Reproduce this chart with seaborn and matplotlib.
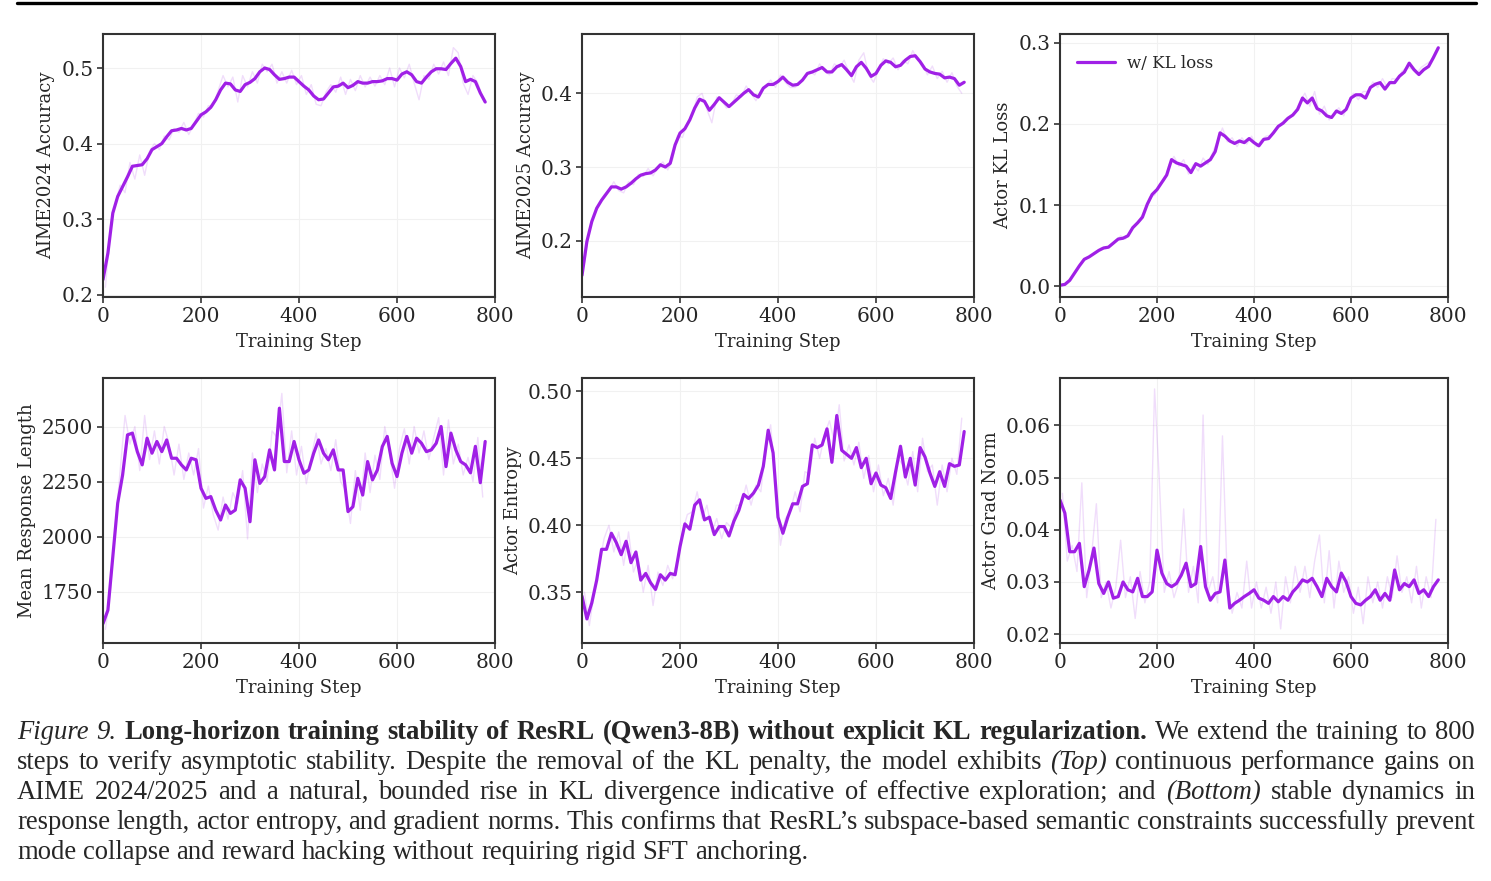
import numpy as np
import pandas as pd
import matplotlib
matplotlib.use("Agg")
import matplotlib.pyplot as plt
from matplotlib.lines import Line2D
import seaborn as sns

# smoothed curves, one value every 10 steps (0..780)
aime24_smooth = [0.220, 0.255, 0.308, 0.330, 0.343, 0.356, 0.370, 0.371, 0.372, 0.380, 0.392, 0.396, 0.400, 0.409,
                 0.417, 0.418, 0.420, 0.418, 0.420, 0.429, 0.438, 0.442, 0.448, 0.458, 0.471, 0.480, 0.479, 0.471,
                 0.469, 0.478, 0.481, 0.486, 0.495, 0.500, 0.498, 0.491, 0.485, 0.486, 0.488, 0.488, 0.482, 0.476,
                 0.471, 0.463, 0.458, 0.459, 0.467, 0.475, 0.476, 0.480, 0.474, 0.477, 0.482, 0.480, 0.480, 0.482,
                 0.482, 0.483, 0.486, 0.486, 0.484, 0.492, 0.495, 0.491, 0.482, 0.480, 0.488, 0.495, 0.499, 0.499,
                 0.498, 0.506, 0.513, 0.502, 0.482, 0.485, 0.482, 0.467, 0.455]
aime25_smooth = [0.153, 0.199, 0.226, 0.244, 0.255, 0.264, 0.273, 0.273, 0.270, 0.273, 0.278, 0.284, 0.289, 0.291,
                 0.292, 0.296, 0.303, 0.300, 0.305, 0.330, 0.346, 0.352, 0.364, 0.380, 0.392, 0.389, 0.377, 0.385,
                 0.394, 0.388, 0.382, 0.388, 0.394, 0.400, 0.405, 0.398, 0.395, 0.407, 0.412, 0.412, 0.416, 0.422,
                 0.415, 0.411, 0.412, 0.418, 0.427, 0.429, 0.432, 0.435, 0.429, 0.429, 0.436, 0.439, 0.432, 0.424,
                 0.436, 0.442, 0.434, 0.423, 0.427, 0.438, 0.444, 0.442, 0.436, 0.438, 0.445, 0.450, 0.451, 0.443,
                 0.433, 0.429, 0.427, 0.426, 0.421, 0.422, 0.420, 0.411, 0.415]
kl_smooth = [0.001, 0.002, 0.007, 0.016, 0.025, 0.033, 0.036, 0.040, 0.044, 0.047, 0.048, 0.053, 0.058, 0.059,
             0.062, 0.072, 0.078, 0.085, 0.101, 0.113, 0.119, 0.128, 0.137, 0.156, 0.152, 0.150, 0.148, 0.140,
             0.151, 0.148, 0.152, 0.156, 0.166, 0.189, 0.185, 0.179, 0.176, 0.179, 0.177, 0.182, 0.177, 0.173,
             0.181, 0.182, 0.189, 0.197, 0.201, 0.207, 0.211, 0.218, 0.232, 0.226, 0.232, 0.219, 0.216, 0.210,
             0.208, 0.216, 0.213, 0.218, 0.232, 0.236, 0.236, 0.232, 0.245, 0.249, 0.251, 0.243, 0.251, 0.251,
             0.259, 0.264, 0.275, 0.267, 0.261, 0.267, 0.271, 0.282, 0.294]
resp_len_smooth = [1606, 1667, 1909, 2152, 2280, 2462, 2470, 2386, 2326, 2447, 2379, 2432, 2386, 2439, 2356, 2356,
                   2326, 2303, 2356, 2349, 2220, 2174, 2182, 2121, 2076, 2144, 2106, 2121, 2258, 2220, 2068, 2349,
                   2242, 2273, 2394, 2303, 2583, 2341, 2341, 2432, 2349, 2288, 2303, 2379, 2439, 2379, 2349, 2394,
                   2303, 2303, 2114, 2136, 2265, 2189, 2341, 2258, 2303, 2409, 2455, 2333, 2273, 2379, 2455, 2379,
                   2447, 2424, 2386, 2394, 2424, 2500, 2318, 2470, 2394, 2341, 2326, 2290, 2410, 2245, 2432]
entropy_smooth = [0.347, 0.330, 0.342, 0.359, 0.382, 0.382, 0.394, 0.387, 0.378, 0.388, 0.372, 0.380, 0.359, 0.364,
                  0.357, 0.352, 0.363, 0.359, 0.364, 0.363, 0.384, 0.401, 0.397, 0.415, 0.419, 0.404, 0.406, 0.393,
                  0.399, 0.399, 0.392, 0.403, 0.411, 0.423, 0.420, 0.424, 0.430, 0.444, 0.471, 0.454, 0.406, 0.394,
                  0.406, 0.416, 0.416, 0.429, 0.431, 0.460, 0.458, 0.460, 0.472, 0.447, 0.482, 0.456, 0.453, 0.450,
                  0.458, 0.443, 0.450, 0.431, 0.439, 0.430, 0.428, 0.420, 0.440, 0.459, 0.436, 0.450, 0.430, 0.458,
                  0.451, 0.439, 0.429, 0.440, 0.429, 0.446, 0.444, 0.445, 0.470]
grad_norm_smooth = [0.0457, 0.0432, 0.0358, 0.0358, 0.0374, 0.0291, 0.0323, 0.0365, 0.0297, 0.0278, 0.0300, 0.0269,
                    0.0272, 0.0300, 0.0285, 0.0281, 0.0307, 0.0272, 0.0272, 0.0281, 0.0361, 0.0317, 0.0297, 0.0291,
                    0.0297, 0.0313, 0.0336, 0.0291, 0.0297, 0.0368, 0.0291, 0.0265, 0.0278, 0.0281, 0.0342, 0.0250,
                    0.0259, 0.0265, 0.0272, 0.0278, 0.0285, 0.0269, 0.0265, 0.0259, 0.0272, 0.0262, 0.0272, 0.0265,
                    0.0281, 0.0291, 0.0304, 0.0300, 0.0307, 0.0291, 0.0272, 0.0307, 0.0291, 0.0281, 0.0317, 0.0300,
                    0.0272, 0.0259, 0.0256, 0.0265, 0.0272, 0.0285, 0.0265, 0.0278, 0.0265, 0.0323, 0.0285, 0.0297,
                    0.0291, 0.0304, 0.0278, 0.0285, 0.0272, 0.0291, 0.0304]

# raw (unsmoothed) readings, one every 10 steps at 5, 15, ..., 775
aime24_raw = [0.21, 0.29, 0.32, 0.345, 0.335, 0.375, 0.353, 0.385, 0.358, 0.39, 0.40, 0.392, 0.41, 0.405, 0.42,
              0.415, 0.428, 0.412, 0.425, 0.44, 0.435, 0.45, 0.45, 0.47, 0.49, 0.475, 0.488, 0.455, 0.49, 0.475,
              0.495, 0.48, 0.505, 0.495, 0.505, 0.48, 0.495, 0.48, 0.497, 0.478, 0.49, 0.465, 0.478, 0.452, 0.45,
              0.468, 0.478, 0.468, 0.488, 0.465, 0.485, 0.47, 0.49, 0.475, 0.488, 0.476, 0.49, 0.478, 0.50, 0.475,
              0.50, 0.487, 0.505, 0.48, 0.458, 0.49, 0.485, 0.505, 0.492, 0.508, 0.49, 0.527, 0.52, 0.48, 0.465,
              0.49, 0.48, 0.46]
aime25_raw = [0.17, 0.215, 0.235, 0.25, 0.262, 0.268, 0.28, 0.268, 0.265, 0.28, 0.276, 0.29, 0.287, 0.298, 0.288,
              0.30, 0.307, 0.296, 0.31, 0.343, 0.34, 0.36, 0.37, 0.395, 0.40, 0.378, 0.36, 0.395, 0.39, 0.38,
              0.385, 0.398, 0.395, 0.41, 0.40, 0.39, 0.405, 0.41, 0.418, 0.408, 0.425, 0.415, 0.408, 0.408, 0.415,
              0.422, 0.43, 0.425, 0.44, 0.43, 0.425, 0.44, 0.435, 0.445, 0.428, 0.415, 0.445, 0.455, 0.425, 0.415,
              0.432, 0.447, 0.44, 0.448, 0.432, 0.445, 0.44, 0.458, 0.445, 0.44, 0.425, 0.437, 0.42, 0.43, 0.415,
              0.428, 0.41, 0.40]
kl_raw = [0.002, 0.004, 0.012, 0.02, 0.03, 0.035, 0.038, 0.041, 0.047, 0.046, 0.052, 0.055, 0.062, 0.058, 0.068,
          0.074, 0.083, 0.094, 0.11, 0.112, 0.126, 0.13, 0.15, 0.16, 0.148, 0.156, 0.138, 0.15, 0.142, 0.158, 0.15,
          0.165, 0.18, 0.195, 0.178, 0.183, 0.172, 0.183, 0.175, 0.185, 0.172, 0.18, 0.185, 0.186, 0.195, 0.20,
          0.206, 0.21, 0.215, 0.228, 0.238, 0.222, 0.24, 0.212, 0.222, 0.205, 0.212, 0.22, 0.21, 0.228, 0.238,
          0.23, 0.24, 0.24, 0.252, 0.245, 0.256, 0.245, 0.256, 0.255, 0.265, 0.27, 0.268, 0.262, 0.27, 0.274,
          0.278, 0.29]
resp_len_raw = [1580, 1750, 2050, 2300, 2550, 2420, 2500, 2300, 2550, 2350, 2480, 2330, 2500, 2420, 2280, 2420,
                2260, 2380, 2280, 2400, 2130, 2230, 2100, 2030, 2180, 2080, 2200, 2150, 2300, 1990, 2380, 2200,
                2330, 2250, 2480, 2450, 2650, 2290, 2480, 2280, 2410, 2240, 2360, 2470, 2330, 2400, 2300, 2440,
                2250, 2210, 2060, 2300, 2120, 2380, 2200, 2370, 2260, 2500, 2380, 2220, 2400, 2490, 2330, 2500,
                2380, 2480, 2350, 2450, 2540, 2280, 2530, 2330, 2420, 2280, 2360, 2250, 2450, 2180]
entropy_raw = [0.35, 0.325, 0.35, 0.37, 0.39, 0.40, 0.38, 0.395, 0.37, 0.395, 0.365, 0.375, 0.35, 0.37, 0.34,
               0.365, 0.355, 0.37, 0.36, 0.375, 0.395, 0.408, 0.41, 0.425, 0.405, 0.415, 0.395, 0.405, 0.39, 0.402,
               0.398, 0.415, 0.415, 0.43, 0.415, 0.43, 0.425, 0.46, 0.475, 0.43, 0.385, 0.405, 0.41, 0.425, 0.41,
               0.44, 0.438, 0.465, 0.45, 0.468, 0.478, 0.462, 0.49, 0.448, 0.46, 0.445, 0.462, 0.435, 0.452, 0.425,
               0.445, 0.422, 0.435, 0.415, 0.45, 0.445, 0.43, 0.455, 0.425, 0.465, 0.44, 0.445, 0.415, 0.445, 0.425,
               0.45, 0.438, 0.48]
grad_norm_raw = [0.047, 0.034, 0.037, 0.032, 0.049, 0.027, 0.035, 0.045, 0.027, 0.030, 0.025, 0.029, 0.038, 0.027,
                 0.031, 0.023, 0.032, 0.026, 0.030, 0.067, 0.049, 0.028, 0.032, 0.027, 0.030, 0.044, 0.028, 0.033,
                 0.026, 0.062, 0.028, 0.031, 0.026, 0.058, 0.030, 0.024, 0.028, 0.025, 0.034, 0.025, 0.030, 0.025,
                 0.029, 0.024, 0.030, 0.021, 0.031, 0.026, 0.033, 0.028, 0.033, 0.027, 0.034, 0.039, 0.026, 0.036,
                 0.025, 0.034, 0.028, 0.031, 0.024, 0.029, 0.022, 0.031, 0.026, 0.030, 0.025, 0.031, 0.027, 0.035,
                 0.028, 0.031, 0.026, 0.033, 0.025, 0.031, 0.027, 0.042]

y_labels = ["AIME2024 Accuracy", "AIME2025 Accuracy", "Actor KL Loss",
            "Mean Response Length", "Actor Entropy", "Actor Grad Norm"]
y_ticks = [[0.2, 0.3, 0.4, 0.5], [0.2, 0.3, 0.4], [0.0, 0.1, 0.2, 0.3],
           [1750, 2000, 2250, 2500], [0.35, 0.40, 0.45, 0.50], [0.02, 0.03, 0.04, 0.05, 0.06]]
y_fmt = ["{:.1f}", "{:.1f}", "{:.1f}", "{:.0f}", "{:.2f}", "{:.2f}"]
y_lims = [(0.197, 0.545), (0.1236, 0.4805), (-0.0135, 0.311),
          (1518, 2720), (0.312, 0.510), (0.0183, 0.0691)]
x_ticks = [0, 200, 400, 600, 800]

smooth_all = [aime24_smooth, aime25_smooth, kl_smooth, resp_len_smooth, entropy_smooth, grad_norm_smooth]
raw_all = [aime24_raw, aime25_raw, kl_raw, resp_len_raw, entropy_raw, grad_norm_raw]

purple = "#A020E6"
W, H = 1491, 881

sns.set_theme(style="whitegrid")
plt.rcParams["font.family"] = ["DejaVu Serif"]
plt.rcParams["axes.edgecolor"] = "#333333"
plt.rcParams["axes.linewidth"] = 1.5
plt.rcParams["grid.color"] = "#f1f1f1"
plt.rcParams["grid.linewidth"] = 0.8

fig = plt.figure(figsize=(W / 100, H / 100), dpi=100)

# axes boxes in pixels: left, top, right, bottom
boxes = [(103, 34, 495, 297), (582, 34, 974, 297), (1060, 34, 1448, 297),
         (103, 378, 495, 643), (582, 378, 974, 643), (1060, 378, 1448, 643)]

for i, (l, t, r, b) in enumerate(boxes):
    ax = fig.add_axes([l / W, 1 - b / H, (r - l) / W, (b - t) / H])
    sm = smooth_all[i]
    rw = raw_all[i]
    df_s = pd.DataFrame({"step": np.arange(len(sm)) * 10, "value": sm})
    df_r = pd.DataFrame({"step": np.arange(len(rw)) * 10 + 5, "value": rw})
    sns.lineplot(data=df_r, x="step", y="value", ax=ax, color=purple, alpha=0.15, lw=1.0)
    if i == 2:
        sns.lineplot(data=df_s, x="step", y="value", ax=ax, color=purple, lw=2.3, label="w/ KL loss")
        ax.legend(loc="upper left", frameon=False, fontsize=12, handlelength=2.3, handletextpad=0.7,
                  borderaxespad=0.6, bbox_to_anchor=(0.0, 0.985))
    else:
        sns.lineplot(data=df_s, x="step", y="value", ax=ax, color=purple, lw=2.3)
    ax.set_xlim(0, 800)
    ax.set_ylim(*y_lims[i])
    ax.set_xticks(x_ticks)
    ax.set_yticks(y_ticks[i])
    ax.set_yticklabels([y_fmt[i].format(v) for v in y_ticks[i]])
    ax.set_xlabel("Training Step", fontsize=13, labelpad=5)
    ax.set_ylabel(y_labels[i], fontsize=13, labelpad=4)
    ax.tick_params(axis="both", labelsize=14.5, length=4, width=1.2, color="#333333",
                   bottom=True, left=True, pad=3)
    ax.grid(True)
    for s in ax.spines.values():
        s.set_visible(True)
        s.set_color("#333333")
        s.set_linewidth(1.5)

# top rule
fig.add_artist(Line2D([17 / W, 1476 / W], [1 - 3 / H, 1 - 3 / H], color="black", lw=2.4,
                      transform=fig.transFigure))

caption = [
    [("Figure 9.", "italic"), (" Long-horizon training stability of ResRL (Qwen3-8B) without explicit KL regularization.", "bold"),
     (" We extend the training to 800", "normal")],
    [("steps to verify asymptotic stability. Despite the removal of the KL penalty, the model exhibits ", "normal"),
     ("(Top)", "italic"), (" continuous performance gains on", "normal")],
    [("AIME 2024/2025 and a natural, bounded rise in KL divergence indicative of effective exploration; and ", "normal"),
     ("(Bottom)", "italic"), (" stable dynamics in", "normal")],
    [("response length, actor entropy, and gradient norms. This confirms that ResRL\u2019s subspace-based semantic constraints successfully prevent", "normal")],
    [("mode collapse and reward hacking without requiring rigid SFT anchoring.", "normal")],
]

renderer = fig.canvas.get_renderer()
cap_left, cap_right = 17, 1475
cap_size = 19.2
for li, line in enumerate(caption):
    words = []
    for seg, sty in line:
        for w in seg.split(" "):
            if w:
                words.append((w, sty))
    texts = []
    for w, sty in words:
        kw = dict(fontsize=cap_size, family=["Liberation Serif"], va="baseline", ha="left")
        if sty == "bold":
            kw["fontweight"] = "bold"
        elif sty == "italic":
            kw["fontstyle"] = "italic"
        texts.append(fig.text(0, 1 - (739 + 30 * li) / H, w, **kw))
    widths = [t.get_window_extent(renderer).width for t in texts]
    if li < len(caption) - 1:
        gap = (cap_right - cap_left - sum(widths)) / (len(texts) - 1)
    else:
        gap = 0.25 * cap_size * 100 / 72
    x = cap_left
    for t, w in zip(texts, widths):
        t.set_x(x / W)
        x += w + gap

fig.savefig("out.png", dpi=100)
